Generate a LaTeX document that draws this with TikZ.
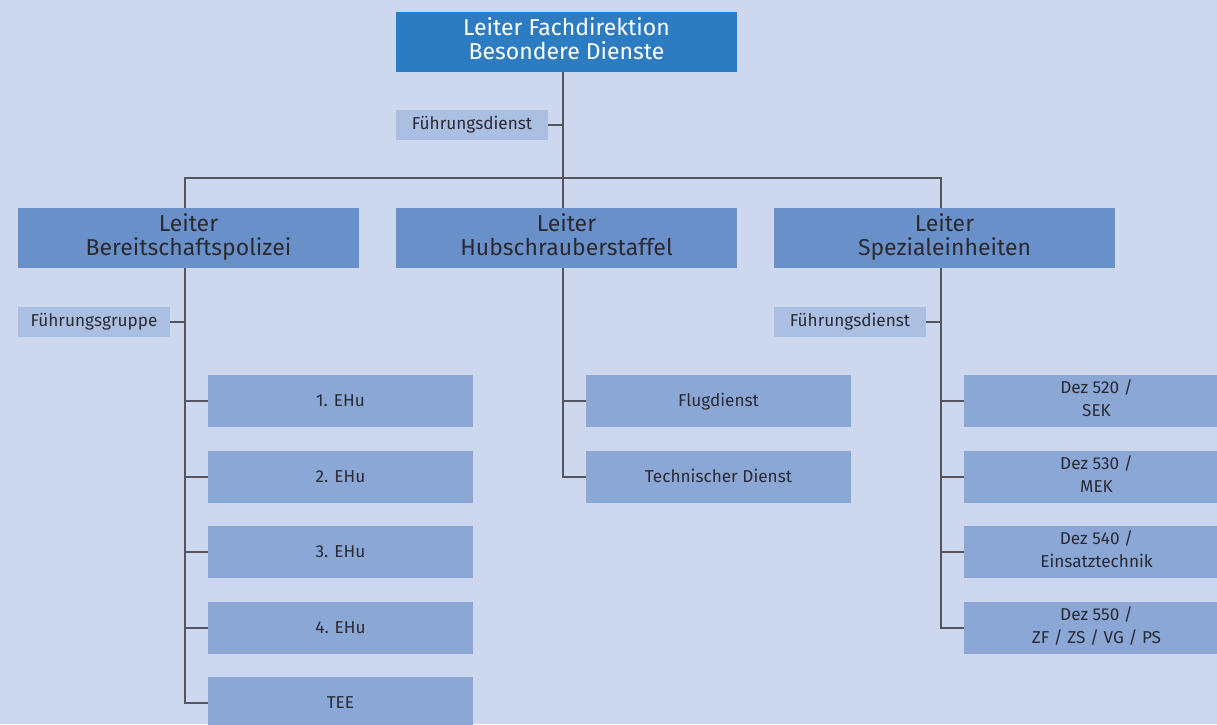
\documentclass[tikz,border=0pt]{standalone}
\usepackage{fontspec}
\setmainfont{Fira Sans}
\definecolor{bgc}{HTML}{CDD7EE}
\definecolor{topc}{HTML}{2D7BC1}
\definecolor{midc}{HTML}{6A90CA}
\definecolor{leafc}{HTML}{8AA7D6}
\definecolor{smallc}{HTML}{ABBFE3}
\definecolor{txtc}{HTML}{2A2A33}
\definecolor{linec}{HTML}{55555F}
\tikzset{
  box/.style 2 args={rectangle, inner sep=0pt, align=center, text=txtc,
    execute at begin node={\rule{0pt}{#1}}, execute at end node={\rule[-#2]{0pt}{0pt}}},
  topbox/.style={box={19pt}{6.4pt}, fill=topc, text=white, minimum width=341pt, minimum height=60pt, font=\fontsize{23}{24}\selectfont},
  midbox/.style={box={21pt}{6.4pt}, fill=midc, minimum width=341pt, minimum height=60pt, font=\fontsize{23}{24}\selectfont},
  leafbox/.style={box={16pt}{5.5pt}, fill=leafc, minimum width=265pt, minimum height=52pt, font=\fontsize{17.2}{23}\selectfont},
  staffbox/.style={box={13pt}{4.4pt}, fill=smallc, minimum width=152pt, minimum height=30pt, font=\fontsize{17.2}{19}\selectfont},
  conn/.style={draw=linec, line width=1.4pt},
}
\begin{document}
\begin{tikzpicture}[x=1pt,y=-1pt]
\fill[bgc] (0,0) rectangle (1217,724);
\useasboundingbox (0,0) rectangle (1217,724);

\node[topbox] (top) at (566.5,42) {Leiter Fachdirektion\\Besondere Dienste};
\node[staffbox] (fd) at (472,125) {Führungsdienst};

\node[midbox] (bp) at (188.5,238) {Leiter\\Bereitschaftspolizei};
\node[midbox] (hs) at (566.5,238) {Leiter\\Hubschrauberstaffel};
\node[midbox] (sp) at (944.5,238) {Leiter\\Spezialeinheiten};

\node[staffbox] (fg) at (94,322) {Führungsgruppe};
\node[staffbox] (fd2) at (850,322) {Führungsdienst};

\node[leafbox] (e1) at (340.5,401) {1. EHu};
\node[leafbox] (e2) at (340.5,477) {2. EHu};
\node[leafbox] (e3) at (340.5,552) {3. EHu};
\node[leafbox] (e4) at (340.5,628) {4. EHu};
\node[leafbox] (tee) at (340.5,703) {TEE};

\node[leafbox] (fl) at (718.5,401) {Flugdienst};
\node[leafbox] (td) at (718.5,477) {Technischer Dienst};

\node[leafbox] (d1) at (1096.5,401) {Dez 520 /\\SEK};
\node[leafbox] (d2) at (1096.5,477) {Dez 530 /\\MEK};
\node[leafbox] (d3) at (1096.5,552) {Dez 540 /\\Einsatztechnik};
\node[leafbox] (d4) at (1096.5,628) {Dez 550 /\\ZF / ZS / VG / PS};

% spines
\coordinate (tsp) at ([xshift=-3.5pt]top.south);
\coordinate (bsp) at ([xshift=-3.5pt]bp.south);
\coordinate (hsp) at ([xshift=-3.5pt]hs.south);
\coordinate (ssp) at ([xshift=-3.5pt]sp.south);

\draw[conn] (tsp) -- ([xshift=-3.5pt]hs.north);
\draw[conn] ([xshift=-3.5pt]bp.north) -- ++(0,-30) -| ([xshift=-3.5pt]sp.north);
\draw[conn] (fd.east) -- (fd.east -| tsp);

\draw[conn] (bsp) |- (tee.west);
\draw[conn] (fg.east) -- (fg.east -| bsp);
\foreach \n in {e1,e2,e3,e4} \draw[conn] (\n.west) -- (\n.west -| bsp);

\draw[conn] (hsp) |- (td.west);
\draw[conn] (fl.west) -- (fl.west -| hsp);

\draw[conn] (ssp) |- (d4.west);
\draw[conn] (fd2.east) -- (fd2.east -| ssp);
\foreach \n in {d1,d2,d3} \draw[conn] (\n.west) -- (\n.west -| ssp);
\end{tikzpicture}
\end{document}
